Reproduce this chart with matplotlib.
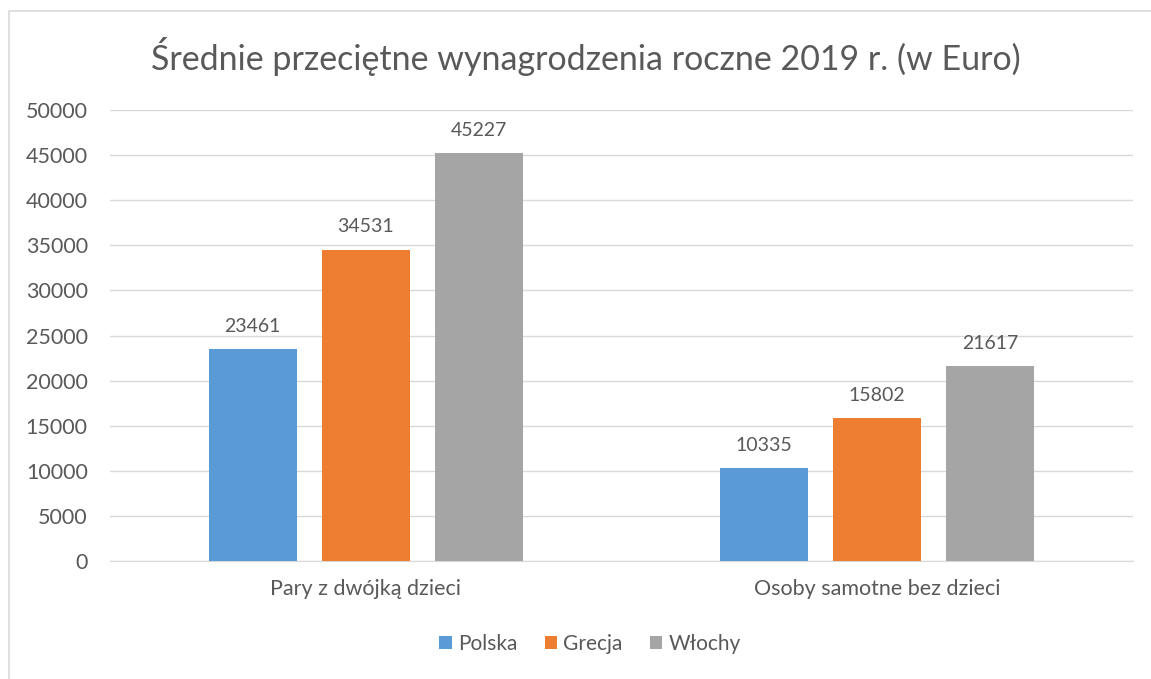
import matplotlib.pyplot as plt
import numpy as np
from matplotlib.patches import Rectangle

plt.rcParams['font.family'] = ['Lato', 'DejaVu Sans']

categories = ["Pary z dwójką dzieci", "Osoby samotne bez dzieci"]
series_names = ["Polska", "Grecja", "Włochy"]
polska = [23461, 10335]
grecja = [34531, 15802]
wlochy = [45227, 21617]

colors = ["#5B9BD5", "#ED7D31", "#A5A5A5"]
text_color = "#595959"

fig = plt.figure(figsize=(11.51, 6.79), dpi=100)
W, H = 1151, 679

# chart frame (only left/top visible in the cropped original)
fig.patches.append(Rectangle((9 / W, -0.1), 1.2, (679 - 11) / H + 0.1,
                             transform=fig.transFigure, fill=False,
                             edgecolor="#D9D9D9", linewidth=1.2))

ax = fig.add_axes([110 / W, 1 - 561 / H, (1133 - 110) / W, (561 - 110) / H])

x = np.arange(len(categories))
width = 0.172
step = 0.221
for i, (name, vals) in enumerate(zip(series_names, [polska, grecja, wlochy])):
    bars = ax.bar(x + (i - 1) * step, vals, width, color=colors[i], label=name, zorder=3)
    for b, v in zip(bars, vals):
        ax.text(b.get_x() + b.get_width() / 2, v + 2500, str(v),
                ha="center", va="center", fontsize=14, color=text_color)

ax.set_xlim(-0.5, 1.5)
ax.set_ylim(0, 50000)
ax.set_yticks(np.arange(0, 50001, 5000))
ax.set_xticks(x)
ax.set_xticklabels(categories)
ax.grid(axis="y", color="#D9D9D9", linewidth=1, zorder=0)
for s in ["top", "right", "left"]:
    ax.spines[s].set_visible(False)
ax.spines["bottom"].set_color("#D9D9D9")
ax.tick_params(axis="both", length=0, labelsize=15.5, colors=text_color)
ax.tick_params(axis="y", pad=16)
ax.tick_params(axis="x", pad=13)

fig.text(586 / W, 1 - 57 / H, "Średnie przeciętne wynagrodzenia roczne 2019 r. (w Euro)",
         ha="center", va="center", fontsize=24.5, color=text_color)

fig.legend(loc="center", bbox_to_anchor=(590 / W, 1 - 644 / H), ncol=3, frameon=False,
           fontsize=15, labelcolor=text_color, handlelength=0.6, handleheight=0.6,
           handletextpad=0.3, columnspacing=1.3)

fig.savefig("out.png", dpi=100)
